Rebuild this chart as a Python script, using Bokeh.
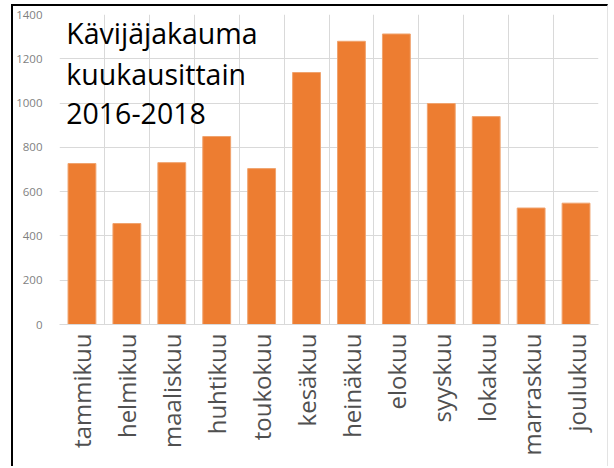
import math
from bokeh.plotting import figure
from bokeh.models import ColumnDataSource, FixedTicker, Label, Range1d, SingleIntervalTicker
from bokeh.embed import file_html
from bokeh.resources import INLINE

months = ["tammikuu", "helmikuu", "maaliskuu", "huhtikuu", "toukokuu", "kesäkuu",
          "heinäkuu", "elokuu", "syyskuu", "lokakuu", "marraskuu", "joulukuu"]
visitors = [727, 456, 731, 849, 704, 1138, 1279, 1312, 998, 939, 526, 548]
title_lines = ["Kävijäjakauma", "kuukausittain", "2016-2018"]

source = ColumnDataSource(data=dict(month=months, visitors=visitors))

# canvas origin after CSS margin + border
ox, oy = 13, 6
W, H = 597, 462
p = figure(x_range=months, y_range=Range1d(0, 1400), width=W, height=H,
           output_backend="svg", toolbar_location=None,
           min_border_left=55 - ox, min_border_top=14 - oy,
           min_border_right=ox + W - 598, min_border_bottom=oy + H - 324)
p.styles = {"margin-left": "11px", "margin-top": "4px",
            "border-left": "2px solid black", "border-top": "2px solid black",
            "border-right": "1px solid #e3e3e3"}

p.vbar(x="month", top="visitors", width=0.62, source=source,
       fill_color="#ed7d31", line_color="#f0a36e", line_width=1)

p.outline_line_color = None
p.background_fill_color = "white"
p.border_fill_color = "white"

grid_color = "#d9d9d9"
p.ygrid.ticker = SingleIntervalTicker(interval=200)
p.ygrid.grid_line_color = grid_color
p.xgrid.ticker = FixedTicker(ticks=list(range(len(months) + 1)))
p.xgrid.grid_line_color = grid_color

p.yaxis.ticker = SingleIntervalTicker(interval=200)
p.yaxis.axis_line_color = None
p.yaxis.major_tick_line_color = None
p.yaxis.minor_tick_line_color = None
p.yaxis.major_label_standoff = 11
p.yaxis.major_label_text_font = "Open Sans"
p.yaxis.major_label_text_font_size = "11.5px"
p.yaxis.major_label_text_color = "#7f7f7f"

p.xaxis.axis_line_color = grid_color
p.xaxis.major_tick_line_color = None
p.xaxis.minor_tick_line_color = None
p.xaxis.major_label_orientation = math.pi / 2
p.xaxis.major_label_standoff = 3
p.xaxis.major_label_text_font = "Open Sans"
p.xaxis.major_label_text_font_size = "24px"
p.xaxis.major_label_text_color = "#505050"

for line, yv in zip(title_lines, [1315, 1132, 953]):
    p.add_layout(Label(x=0.15, y=yv, text=line, text_font="Open Sans",
                       text_font_size="28.5px", text_color="black",
                       text_baseline="alphabetic", text_align="left"))

open("out.html", "w").write(file_html(p, INLINE))
